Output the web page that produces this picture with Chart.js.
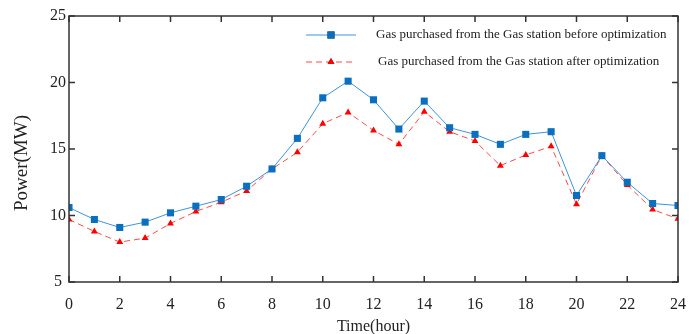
<!DOCTYPE html>
<html>
<head>
<meta charset="utf-8">
<script src="https://cdn.jsdelivr.net/npm/chart.js@4"></script>
<style>
  html, body { margin: 0; padding: 0; background: #fff; }
  #wrap { width: 689px; height: 334px; }
</style>
</head>
<body>
<div id="wrap"><canvas id="chart"></canvas></div>
<script>
// data
const hours = [0,1,2,3,4,5,6,7,8,9,10,11,12,13,14,15,16,17,18,19,20,21,22,23,24];
const beforeOpt = [10.6,9.7,9.1,9.5,10.2,10.7,11.2,12.2,13.5,15.8,18.85,20.1,18.7,16.5,18.6,16.6,16.1,15.35,16.1,16.3,11.5,14.5,12.5,10.9,10.75];
const afterOpt  = [9.7,8.8,8.0,8.3,9.4,10.3,11.0,11.85,13.5,14.75,16.9,17.75,16.4,15.35,17.8,16.3,15.6,13.75,14.55,15.2,10.85,14.5,12.3,10.45,9.75];
const xTicks = [0,2,4,6,8,10,12,14,16,18,20,22,24];
const yTicks = [5,10,15,20,25];
const seriesNames = [
  'Gas purchased from the Gas station before optimization',
  'Gas purchased from the Gas station after optimization'
];

const FONT = '"Liberation Serif", "Times New Roman", serif';

// frame, inward ticks, y title and legend
const framePlugin = {
  id: 'frame',
  afterDraw(chart) {
    const { ctx, chartArea: a, scales: { x, y } } = chart;
    ctx.save();
    ctx.strokeStyle = '#333';
    ctx.lineWidth = 1.5;
    ctx.strokeRect(a.left, a.top, a.right - a.left, a.bottom - a.top);
    ctx.beginPath();
    xTicks.forEach(v => {
      const px = x.getPixelForValue(v);
      ctx.moveTo(px, a.bottom); ctx.lineTo(px, a.bottom - 6);
      ctx.moveTo(px, a.top); ctx.lineTo(px, a.top + 6);
    });
    yTicks.forEach(v => {
      const py = y.getPixelForValue(v);
      ctx.moveTo(a.left, py); ctx.lineTo(a.left + 6, py);
      ctx.moveTo(a.right, py); ctx.lineTo(a.right - 6, py);
    });
    ctx.stroke();

    // y axis title
    ctx.fillStyle = '#222';
    ctx.font = '19px ' + FONT;
    ctx.textAlign = 'center';
    ctx.textBaseline = 'middle';
    ctx.translate(22, 163);
    ctx.rotate(-Math.PI / 2);
    ctx.fillText('Power(MW)', 0, 0);
    ctx.restore();

    // legend
    ctx.save();
    ctx.font = '13px ' + FONT;
    ctx.textBaseline = 'middle';
    ctx.fillStyle = '#222';
    const rows = [{ ds: chart.data.datasets[0], y: 35, tx: 376 },
                  { ds: chart.data.datasets[1], y: 62, tx: 378 }];
    rows.forEach(r => {
      ctx.strokeStyle = r.ds.borderColor;
      ctx.lineWidth = r.ds.borderWidth;
      ctx.setLineDash(r.ds.borderDash || []);
      ctx.beginPath();
      ctx.moveTo(306, r.y); ctx.lineTo(356, r.y);
      ctx.stroke();
      ctx.setLineDash([]);
      Chart.helpers.drawPoint(ctx, {
        pointStyle: r.ds.pointStyle, radius: r.ds.pointRadius, rotation: 0, borderWidth: 0
      }, 331, r.y);
      ctx.fillStyle = r.ds.pointBackgroundColor;
      ctx.fill();
      ctx.fillStyle = '#222';
      ctx.fillText(r.ds.label, r.tx, r.y);
    });
    ctx.restore();
  }
};

new Chart(document.getElementById('chart'), {
  type: 'line',
  data: {
    datasets: [
      {
        label: seriesNames[0],
        data: hours.map((h, i) => ({ x: h, y: beforeOpt[i] })),
        borderColor: '#3f93d9',
        borderWidth: 1,
        pointStyle: 'rect',
        pointRadius: 5,
        pointBackgroundColor: '#0b6fc0',
        pointBorderColor: '#0b6fc0',
        pointBorderWidth: 0,
        tension: 0
      },
      {
        label: seriesNames[1],
        data: hours.map((h, i) => ({ x: h, y: afterOpt[i] })),
        borderColor: '#ff4a4a',
        borderWidth: 1,
        borderDash: [6, 4],
        pointStyle: 'triangle',
        pointRadius: 4,
        pointBackgroundColor: '#ff0000',
        pointBorderColor: '#ff0000',
        pointBorderWidth: 0,
        tension: 0
      }
    ]
  },
  options: {
    responsive: true,
    maintainAspectRatio: false,
    animation: false,
    layout: { padding: { top: 16, right: 11, left: 0, bottom: 0 } },
    plugins: { legend: { display: false }, tooltip: { enabled: false } },
    scales: {
      x: {
        type: 'linear',
        min: 0, max: 24,
        afterFit(s) { s.height = 52; s.paddingRight = 0; s.paddingLeft = 0; },
        afterBuildTicks(s) { s.ticks = xTicks.map(v => ({ value: v })); },
        grid: { display: false, drawTicks: false },
        border: { display: false },
        ticks: { color: '#222', font: { family: FONT, size: 16 }, padding: 13, maxRotation: 0 },
        title: { display: true, text: 'Time(hour)', color: '#222', font: { family: FONT, size: 16 }, padding: { top: 0, bottom: -2 } }
      },
      y: {
        min: 5, max: 25,
        afterFit(s) { s.width = 69; s.paddingTop = 0; s.paddingBottom = 0; },
        afterBuildTicks(s) { s.ticks = yTicks.map(v => ({ value: v })); },
        grid: { display: false, drawTicks: false },
        border: { display: false },
        ticks: { color: '#222', font: { family: FONT, size: 16 }, padding: 3, crossAlign: 'center' }
      }
    }
  },
  plugins: [framePlugin]
});
</script>
</body>
</html>
